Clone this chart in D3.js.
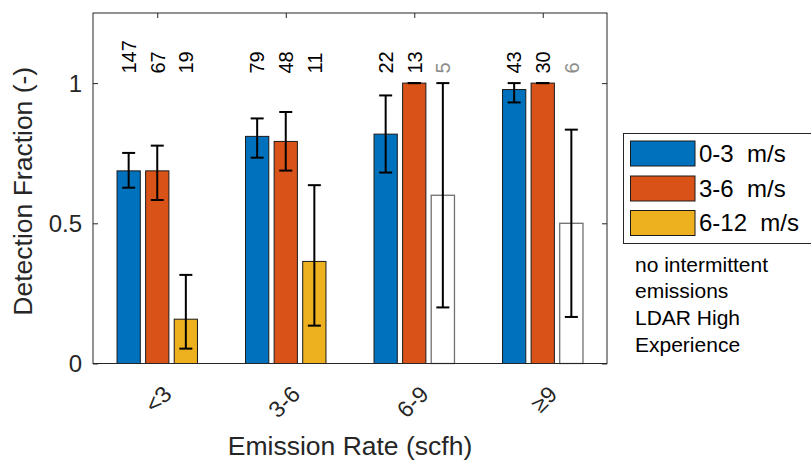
<!DOCTYPE html>
<html>
<head>
<meta charset="utf-8">
<script src="https://cdn.jsdelivr.net/npm/d3@7"></script>
<style>
  html, body { margin: 0; padding: 0; background: #fff; }
  svg { display: block; font-family: "Liberation Sans", Arial, Helvetica, sans-serif; }
  text { white-space: pre; }
</style>
</head>
<body>
<svg id="chart" width="811" height="460"></svg>
<script>
// Emission-rate bins and wind-speed classes
const categories = ["<3", "3-6", "6-9", "\u22659"];
const seriesNames = ["0-3  m/s", "3-6  m/s", "6-12  m/s"];
const seriesColors = ["#0072BD", "#D95319", "#EDB120"];

// Detection fraction per bin for each wind class
const frac0to3 = [0.687, 0.810, 0.818, 0.977];
const frac3to6 = [0.687, 0.792, 1.0, 1.0];
const frac6to12 = [0.158, 0.364, 0.6, 0.5];

// Error-bar limits (lower, upper)
const low0to3 = [0.627, 0.734, 0.681, 0.931];
const high0to3 = [0.751, 0.874, 0.956, 1.0];
const low3to6 = [0.583, 0.688, 1.0, 1.0];
const high3to6 = [0.777, 0.897, 1.0, 1.0];
const low6to12 = [0.053, 0.135, 0.2, 0.166];
const high6to12 = [0.316, 0.636, 1.0, 0.834];

// Number of releases behind each bar
const n0to3 = [147, 79, 22, 43];
const n3to6 = [67, 48, 13, 30];
const n6to12 = [19, 11, 5, 6];

const yTicks = [0, 0.5, 1];
const yTickLabels = ["0", "0.5", "1"];
const noteLines = ["no intermittent", "emissions", "LDAR High", "Experience"];

// Bars built on fewer releases than this are drawn hollow with grey counts
const minCount = 10;

const series = [
  { name: seriesNames[0], color: seriesColors[0], vals: frac0to3, lo: low0to3, hi: high0to3, n: n0to3 },
  { name: seriesNames[1], color: seriesColors[1], vals: frac3to6, lo: low3to6, hi: high3to6, n: n3to6 },
  { name: seriesNames[2], color: seriesColors[2], vals: frac6to12, lo: low6to12, hi: high6to12, n: n6to12 }
];

const axisColor = "#262626";
const plot = { left: 93, right: 607, top: 13, bottom: 363.5 };

const svg = d3.select("#chart");

// Category positions 1..4 on a continuous axis from 0.5 to 4.5
const x = d3.scaleLinear().domain([0.5, categories.length + 0.5]).range([plot.left, plot.right]);
const y = d3.scaleLinear().domain([0, 1.25]).range([plot.bottom, plot.top]);

const groupOffset = 0.2225;
const barW = 0.181;
const unit = x(1) - x(0);
const tickLen = 5;

// Axes box ticks (drawn beneath the bars)
const axesG = svg.append("g");
const xAxisBottom = d3.axisBottom(x).tickValues(d3.range(1, categories.length + 1))
  .tickSizeInner(-tickLen).tickSizeOuter(0).tickFormat("");
const xAxisTop = d3.axisTop(x).tickValues(d3.range(1, categories.length + 1))
  .tickSizeInner(-tickLen).tickSizeOuter(0).tickFormat("");
const yAxisLeft = d3.axisLeft(y).tickValues(yTicks).tickSizeInner(-tickLen).tickSizeOuter(0).tickFormat("");
const yAxisRight = d3.axisRight(y).tickValues(yTicks).tickSizeInner(-tickLen).tickSizeOuter(0).tickFormat("");

axesG.append("g").attr("transform", `translate(0,${plot.bottom})`).call(xAxisBottom);
axesG.append("g").attr("transform", `translate(0,${plot.top})`).call(xAxisTop);
axesG.append("g").attr("transform", `translate(${plot.left},0)`).call(yAxisLeft);
axesG.append("g").attr("transform", `translate(${plot.right},0)`).call(yAxisRight);
axesG.selectAll(".domain").remove();
axesG.selectAll(".tick line").attr("stroke", axisColor).attr("stroke-width", 1);

// Bars
const barsG = svg.append("g");
series.forEach((s, si) => {
  const off = (si - 1) * groupOffset;
  barsG.selectAll(null)
    .data(s.vals.map((v, i) => ({ v, i, n: s.n[i] })))
    .join("rect")
    .attr("x", d => x(d.i + 1 + off) - barW * unit / 2)
    .attr("width", barW * unit)
    .attr("y", d => y(d.v))
    .attr("height", d => y(0) - y(d.v))
    .attr("fill", d => d.n < minCount ? "#ffffff" : s.color)
    .attr("stroke", d => d.n < minCount ? "#707070" : "#1a1a1a")
    .attr("stroke-width", d => d.n < minCount ? 1.3 : 1);
});

// Box outline
svg.append("rect")
  .attr("x", plot.left).attr("y", plot.top)
  .attr("width", plot.right - plot.left).attr("height", plot.bottom - plot.top)
  .attr("fill", "none").attr("stroke", axisColor).attr("stroke-width", 1);

// Error bars
const errG = svg.append("g").attr("stroke", "#000").attr("stroke-width", 2).attr("fill", "none");
const capHalf = 6.5;
series.forEach((s, si) => {
  const off = (si - 1) * groupOffset;
  s.vals.forEach((v, i) => {
    const cx = x(i + 1 + off);
    errG.append("line").attr("x1", cx).attr("x2", cx).attr("y1", y(s.lo[i])).attr("y2", y(s.hi[i]));
    errG.append("line").attr("x1", cx - capHalf).attr("x2", cx + capHalf).attr("y1", y(s.lo[i])).attr("y2", y(s.lo[i]));
    errG.append("line").attr("x1", cx - capHalf).attr("x2", cx + capHalf).attr("y1", y(s.hi[i])).attr("y2", y(s.hi[i]));
  });
});

// Sample counts above each bar, rotated
const countG = svg.append("g");
series.forEach((s, si) => {
  const off = (si - 1) * groupOffset;
  s.n.forEach((n, i) => {
    const cx = x(i + 1 + off) + 7.3;
    countG.append("text")
      .attr("transform", `translate(${cx},73.5) rotate(-90)`)
      .attr("text-anchor", "start")
      .attr("font-size", 20)
      .attr("fill", n < minCount ? "#8c8c8c" : "#000")
      .text(n);
  });
});

// Y tick labels
svg.append("g").selectAll("text")
  .data(yTicks)
  .join("text")
  .attr("x", plot.left - 11)
  .attr("y", d => y(d))
  .attr("dy", "0.35em")
  .attr("text-anchor", "end")
  .attr("font-size", 24)
  .attr("fill", axisColor)
  .text((d, i) => yTickLabels[i]);

// X tick labels, rotated 45 degrees
svg.append("g").selectAll("text")
  .data(categories)
  .join("text")
  .attr("transform", (d, i) => `translate(${x(i + 1) + 10},390) rotate(-45)`)
  .attr("text-anchor", "end")
  .attr("dy", "0.35em")
  .attr("font-size", 23)
  .attr("fill", axisColor)
  .text(d => d);

// Axis titles
svg.append("text")
  .attr("x", (plot.left + plot.right) / 2)
  .attr("y", 455)
  .attr("text-anchor", "middle")
  .attr("font-size", 26.5)
  .attr("fill", axisColor)
  .text("Emission Rate (scfh)");

svg.append("text")
  .attr("transform", `translate(32,${(plot.top + plot.bottom) / 2 + 3}) rotate(-90)`)
  .attr("text-anchor", "middle")
  .attr("font-size", 26.5)
  .attr("fill", axisColor)
  .text("Detection Fraction (-)");

// Legend
const legendG = svg.append("g");
legendG.append("rect")
  .attr("x", 623.5).attr("y", 133.5).attr("width", 190).attr("height", 110)
  .attr("fill", "#fff").attr("stroke", axisColor).attr("stroke-width", 1);
const rowY = [153.5, 188.5, 223];
series.forEach((s, si) => {
  legendG.append("rect")
    .attr("x", 630.5).attr("y", rowY[si] - 12.5).attr("width", 64.5).attr("height", 25)
    .attr("fill", s.color).attr("stroke", "#1a1a1a").attr("stroke-width", 1);
  legendG.append("text")
    .attr("x", 699).attr("y", rowY[si]).attr("dy", "0.35em")
    .attr("font-size", 24).attr("fill", "#000")
    .attr("xml:space", "preserve")
    .text(s.name);
});

// Annotation below the legend
svg.append("g").selectAll("text")
  .data(noteLines)
  .join("text")
  .attr("x", 635)
  .attr("y", (d, i) => 271.7 + i * 26.7)
  .attr("font-size", 21)
  .attr("fill", "#000")
  .text(d => d);
</script>
</body>
</html>
